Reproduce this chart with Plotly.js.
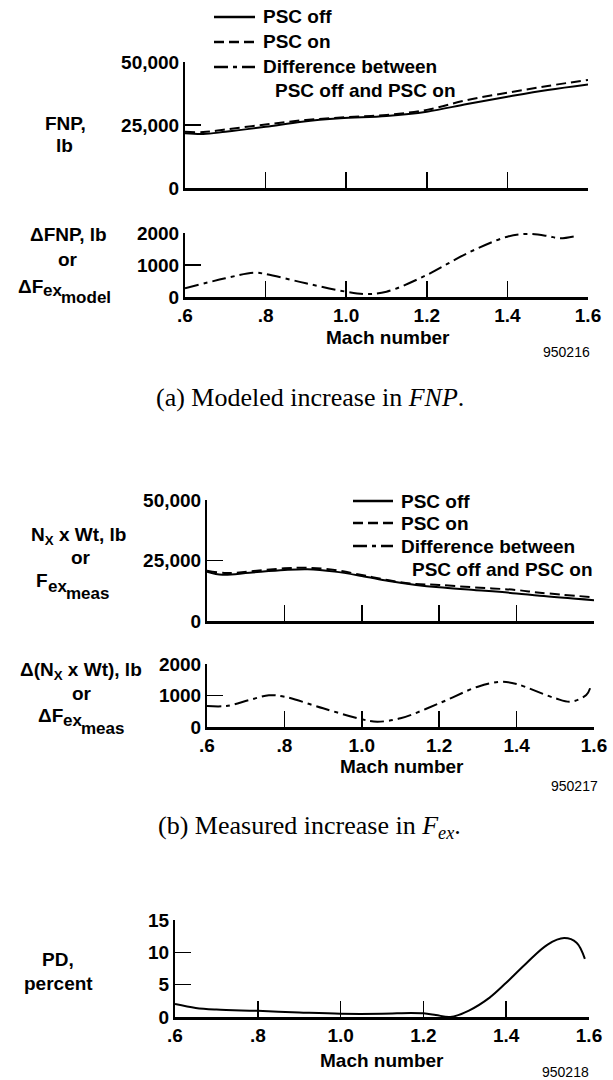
<!DOCTYPE html>
<html>
<head>
<meta charset="utf-8">
<script src="https://cdn.plot.ly/plotly-3.0.1.min.js"></script>
<style>html,body{margin:0;padding:0;background:#fff;}#chart{width:613px;height:1080px;}</style>
</head>
<body>
<div id="chart"></div>
<script>
// ---------- DATA ----------
// (a) Modeled
const machA_off = [0.6, 0.645, 0.7, 0.8, 0.89, 0.985, 1.1, 1.2, 1.3, 1.4, 1.5, 1.6];
const fnpOff    = [21700, 21400, 22300, 24300, 26300, 27650, 28600, 30300, 33300, 36200, 38900, 41100];
const machA_on  = [0.6, 0.645, 0.7, 0.8, 0.9, 1.0, 1.1, 1.2, 1.3, 1.4, 1.5, 1.6];
const fnpOn     = [22300, 22200, 23200, 25200, 27000, 28100, 29000, 31000, 34900, 37800, 40500, 42900];
const machA_diff = [0.6, 0.7, 0.77, 0.8, 0.9, 1.0, 1.05, 1.1, 1.2, 1.3, 1.4, 1.45, 1.5, 1.53, 1.57];
const dFnp       = [272, 584, 760, 719, 428, 166, 94, 166, 688, 1365, 1885, 1970, 1906, 1834, 1906];
// (b) Measured
const machB_off = [0.6, 0.64, 0.71, 0.8, 0.86, 0.93, 1.0, 1.07, 1.14, 1.2, 1.29, 1.4, 1.46, 1.6];
const fexOff    = [20400, 19100, 19950, 21050, 21350, 20400, 18600, 16500, 14900, 13900, 12800, 11400, 10400, 8600];
const machB_on  = [0.6, 0.65, 0.71, 0.8, 0.86, 0.93, 1.0, 1.07, 1.14, 1.2, 1.29, 1.4, 1.46, 1.6];
const fexOn     = [20800, 19800, 20500, 21750, 22000, 21100, 19000, 16800, 15300, 14900, 13900, 12800, 11700, 9800];
const machB_diff = [0.6, 0.65, 0.71, 0.76, 0.8, 0.9, 1.0, 1.04, 1.1, 1.2, 1.3, 1.36, 1.4, 1.5, 1.54, 1.58, 1.59];
const dFex       = [667, 667, 857, 1006, 962, 593, 244, 169, 276, 752, 1280, 1438, 1365, 911, 804, 1016, 1229];
// (c) Percent difference
const machC = [0.6, 0.65, 0.7, 0.8, 0.9, 1.0, 1.1, 1.17, 1.2, 1.23, 1.265, 1.31, 1.36, 1.4, 1.45, 1.5, 1.54, 1.57, 1.59];
const pd    = [2.0, 1.4, 1.15, 0.95, 0.7, 0.5, 0.5, 0.62, 0.57, 0.32, 0.0, 1.0, 3.0, 5.3, 8.4, 11.2, 12.2, 11.5, 9.0];
// legend / tick text
const seriesNames = ['PSC off', 'PSC on', 'Difference between', 'PSC off and PSC on'];
const machTickVals = [0.6, 0.8, 1.0, 1.2, 1.4, 1.6];
const machTickText = ['.6', '.8', '1.0', '1.2', '1.4', '1.6'];
const forceTickVals = [0, 25000, 50000];
const forceTickText = ['0', '25,000', '50,000'];
const deltaTickVals = [0, 1000, 2000];
const deltaTickText = ['0', '1000', '2000'];
const pdTickVals = [0, 5, 10, 15];
const pdTickText = ['0', '5', '10', '15'];

// ---------- LAYOUT HELPERS ----------
const W = 613, H = 1080;
const SANS = 'Liberation Sans, Arial, Helvetica, sans-serif';
const SERIF = 'Liberation Serif, Times New Roman, serif';
const FS = 19;
const dx = (a, b) => [a / W, b / W];
const dy = (top, bot) => [1 - bot / H, 1 - top / H];
const px = v => v / W;
const py = v => 1 - v / H;

const boldFont = {family: SANS, size: FS, color: 'black', weight: 'bold'};
const DASH = '10px,5px';
const DASHDOT = '14px,5px,4px,5px';
const solid = {color: 'black', width: 2, shape: 'spline', smoothing: 1};
const dashed = {color: 'black', width: 2, shape: 'spline', smoothing: 1, dash: DASH};
const dashdot = {color: 'black', width: 2, shape: 'spline', smoothing: 1, dash: DASHDOT};

function xAxis(domain, anchor, labels) {
  return {
    domain: domain, anchor: anchor, range: [0.6, 1.6],
    showgrid: false, zeroline: false, showline: true, linecolor: 'black', linewidth: 2.5,
    ticks: 'inside', ticklen: 16, tickwidth: 1.5, tickcolor: 'black',
    tickvals: labels ? machTickVals : machTickVals.slice(1),
    ticktext: labels ? machTickText : machTickText.slice(1),
    showticklabels: labels, tickfont: boldFont, fixedrange: true
  };
}
function yAxis(domain, anchor, range, vals, text) {
  return {
    domain: domain, anchor: anchor, range: range,
    showgrid: false, zeroline: false, showline: true, linecolor: 'black', linewidth: 2,
    ticks: 'inside', ticklen: 16, tickwidth: 1.5, tickcolor: 'black',
    tickvals: vals, ticktext: text, tickfont: boldFont, fixedrange: true
  };
}

const diffName = seriesNames[2] + ' ' + seriesNames[3];
const traces = [
  {x: machA_off, y: fnpOff, xaxis: 'x', yaxis: 'y', mode: 'lines', line: solid, name: seriesNames[0]},
  {x: machA_on, y: fnpOn, xaxis: 'x', yaxis: 'y', mode: 'lines', line: dashed, name: seriesNames[1]},
  {x: machA_diff, y: dFnp, xaxis: 'x2', yaxis: 'y2', mode: 'lines', line: dashdot, name: diffName},
  {x: machB_off, y: fexOff, xaxis: 'x3', yaxis: 'y3', mode: 'lines', line: solid, name: seriesNames[0]},
  {x: machB_on, y: fexOn, xaxis: 'x3', yaxis: 'y3', mode: 'lines', line: dashed, name: seriesNames[1]},
  {x: machB_diff, y: dFex, xaxis: 'x4', yaxis: 'y4', mode: 'lines', line: dashdot, name: diffName},
  {x: machC, y: pd, xaxis: 'x5', yaxis: 'y5', mode: 'lines', line: solid, name: 'PD'}
];

function ann(text, x, y, opt) {
  return Object.assign({
    text: text, x: px(x), y: py(y), xref: 'paper', yref: 'paper',
    showarrow: false, xanchor: 'center', yanchor: 'middle',
    font: boldFont
  }, opt || {});
}
const smallFont = {family: SANS, size: 14, color: 'black'};
const subFont = {family: SANS, size: 17, color: 'black', weight: 'bold'};
const capFont = {family: SERIF, size: 26, color: 'black'};

// legend key: sample lines drawn as paper shapes, labels as annotations
function legendKey(x0, x1, textX, indentX, rows) {
  const styles = [undefined, DASH, DASHDOT];
  const shapes = [], anns = [];
  for (let i = 0; i < 3; i++) {
    shapes.push({type: 'line', xref: 'paper', yref: 'paper',
      x0: px(x0), x1: px(x1), y0: py(rows[i]), y1: py(rows[i]),
      line: Object.assign({color: 'black', width: 2.5}, styles[i] ? {dash: styles[i]} : {})});
    anns.push(ann(seriesNames[i], textX, rows[i], {xanchor: 'left'}));
  }
  anns.push(ann(seriesNames[3], indentX, rows[3], {xanchor: 'left'}));
  return {shapes, anns};
}
const keyA = legendKey(214, 255, 261, 273, [17, 42, 67, 90]);
const keyB = legendKey(353, 393, 399, 410, [501, 523, 546, 569]);

const annotations = [
  // (a)
  ann('FNP,', 65, 123), ann('lb', 64, 145),
  ann('\u0394FNP, lb', 68, 235), ann('or', 68, 260),
  ann('\u0394F', 45, 286, {xanchor: 'right'}),
  ann('ex', 41, 291, {xanchor: 'left', font: subFont}),
  ann('model', 59, 297, {xanchor: 'left', font: subFont}),
  ann('Mach number', 388, 338),
  ann('950216', 566, 352, {font: smallFont}),
  ann('(a) Modeled increase in <i>FNP</i>.', 310, 397, {font: capFont}),
  // (b)
  ann('N<sub>X</sub> x Wt, lb', 78, 536), ann('or', 81, 557),
  ann('F', 50, 580, {xanchor: 'right'}),
  ann('ex', 46, 586, {xanchor: 'left', font: subFont}),
  ann('meas', 64, 593, {xanchor: 'left', font: subFont}),
  ann('\u0394(N<sub>X</sub> x Wt), lb', 81, 671), ann('or', 82, 693),
  ann('\u0394F', 65, 715, {xanchor: 'right'}),
  ann('ex', 61, 720, {xanchor: 'left', font: subFont}),
  ann('meas', 79, 728, {xanchor: 'left', font: subFont}),
  ann('Mach number', 402, 766),
  ann('950217', 574, 786, {font: smallFont}),
  ann('(b) Measured increase in <i>F<sub>ex</sub></i>.', 309, 827, {font: capFont}),
  // (c)
  ann('PD,', 58, 959), ann('percent', 58, 983),
  ann('Mach number', 382, 1060),
  ann('950218', 565, 1072, {font: smallFont})
].concat(keyA.anns, keyB.anns);

const layout = {
  width: W, height: H,
  margin: {l: 0, r: 0, t: 0, b: 0, pad: 0},
  paper_bgcolor: 'white', plot_bgcolor: 'white',
  font: {family: SANS, color: 'black'},
  showlegend: false,
  xaxis:  xAxis(dx(185, 588), 'y', false),
  yaxis:  yAxis(dy(62, 188), 'x', [0, 50000], forceTickVals, forceTickText),
  xaxis2: xAxis(dx(185, 588), 'y2', true),
  yaxis2: yAxis(dy(233, 297), 'x2', [0, 2000], deltaTickVals, deltaTickText),
  xaxis3: xAxis(dx(207, 594), 'y3', false),
  yaxis3: yAxis(dy(500, 621), 'x3', [0, 50000], forceTickVals, forceTickText),
  xaxis4: xAxis(dx(207, 594), 'y4', true),
  yaxis4: yAxis(dy(664, 727), 'x4', [0, 2000], deltaTickVals, deltaTickText),
  xaxis5: xAxis(dx(175, 589), 'y5', true),
  yaxis5: yAxis(dy(920, 1017), 'x5', [0, 15], pdTickVals, pdTickText),
  shapes: keyA.shapes.concat(keyB.shapes),
  annotations: annotations
};

Plotly.newPlot('chart', traces, layout, {staticPlot: true, displayModeBar: false});
</script>
</body>
</html>
